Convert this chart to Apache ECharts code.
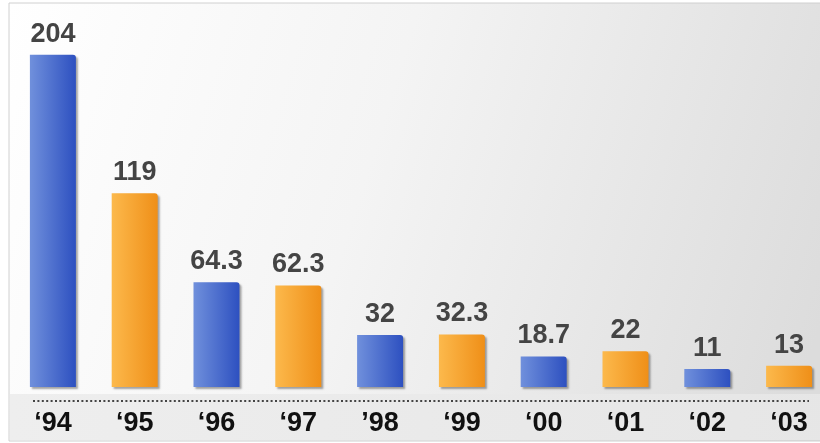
<!DOCTYPE html>
<html><head><meta charset="utf-8">
<script src="https://cdn.jsdelivr.net/npm/echarts@6/dist/echarts.min.js"></script>
<style>html,body{margin:0;padding:0;background:#fff;overflow:hidden;width:820px;height:443px}#c{width:840px;height:443px}</style>
</head><body><div id="c"></div>
<script>
var categories = ['\u201894','\u201895','\u201896','\u201897','\u201998','\u201899','\u201800','\u201801','\u201802','\u201803'];
var values = [204, 119, 64.3, 62.3, 32, 32.3, 18.7, 22, 11, 13];
var valueLabels = ['204','119','64.3','62.3','32','32.3','18.7','22','11','13'];

var blue = new echarts.graphic.LinearGradient(0,0,1,0,[{offset:0,color:'#7090dc'},{offset:1,color:'#2d50c0'}]);
var orange = new echarts.graphic.LinearGradient(0,0,1,0,[{offset:0,color:'#fcb94c'},{offset:1,color:'#ef8f18'}]);

var chart = echarts.init(document.getElementById('c'), null, {renderer:'canvas'});
chart.setOption({
  animation:false,
  graphic:[{
    type:'rect', z:-10, silent:true,
    shape:{x:9,y:3,width:830,height:438},
    style:{fill:new echarts.graphic.LinearGradient(0,0,1,0.6,[{offset:0,color:'#ffffff'},{offset:0.45,color:'#f4f4f4'},{offset:1,color:'#dcdcdc'}]), stroke:'#d0d0d0', lineWidth:1}
  },{
    type:'rect', z:-9, silent:true,
    shape:{x:10,y:394,width:830,height:46},
    style:{fill:new echarts.graphic.LinearGradient(0,0,1,0,[{offset:0,color:'#eeeeee'},{offset:1,color:'#e6e6e6'}])}
  },{
    type:'line', z:-8, silent:true,
    shape:{x1:33,y1:401,x2:809,y2:401},
    style:{stroke:'#444',lineWidth:2,lineDash:[2,2.4]}
  }],
  grid:{left:12,right:10,top:45,bottom:56},
  xAxis:{
    type:'category', data:categories, offset:13,
    axisLine:{show:false},
    axisTick:{show:false},
    axisLabel:{color:'#111',fontFamily:'Liberation Sans, Arial',fontWeight:'bold',fontSize:27,margin:10}
  },
  yAxis:{type:'value',min:0,max:210,show:false,splitLine:{show:false}},
  series:[{
    type:'bar', barWidth:46,
    data:values.map(function(v,i){return {value:v,itemStyle:{color:i%2===0?blue:orange}};}),
    itemStyle:{borderRadius:[0,3,0,0],shadowColor:'rgba(0,0,0,0.35)',shadowOffsetX:2,shadowOffsetY:2,shadowBlur:2},
    label:{show:true,position:'top',distance:7,color:'#444',fontFamily:'Liberation Sans, Arial',fontWeight:'bold',fontSize:27,
      formatter:function(p){return valueLabels[p.dataIndex];}}
  }]
});
</script></body></html>
